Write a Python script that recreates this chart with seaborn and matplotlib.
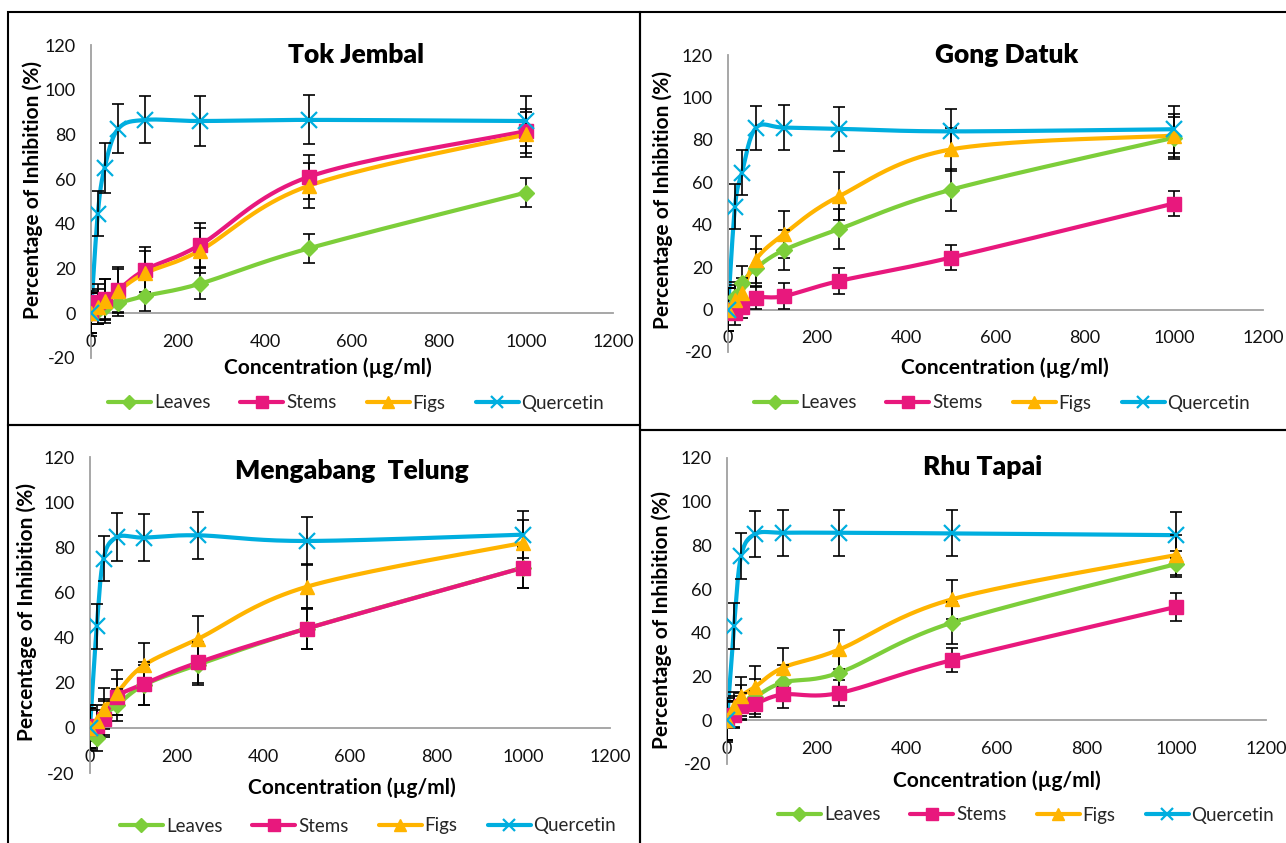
import numpy as np
import pandas as pd
import matplotlib
matplotlib.use("Agg")
import matplotlib.pyplot as plt
from matplotlib.lines import Line2D
from matplotlib.patches import Rectangle
import seaborn as sns

# ---------------- data ----------------
concentration = [0, 15.625, 31.25, 62.5, 125, 250, 500, 1000]
series_names = ["Leaves", "Stems", "Figs", "Quercetin"]
panel_titles = ["Tok Jembal", "Gong Datuk", "Mengabang  Telung", "Rhu Tapai"]

# Tok Jembal
tj_leaves = [0, 1.3, 3, 4.6, 7.8, 13.2, 29, 54]
tj_stems = [0, 5, 6.5, 10.5, 19.5, 30.5, 61, 81.5]
tj_figs = [0, 3, 5.5, 10, 18, 28, 57, 80]
tj_querc = [0, 44.5, 65, 82.5, 86.5, 86, 86.5, 86]
tj_leaves_err = [9, 6, 6, 6, 7, 7, 6.5, 6.5]
tj_stems_err = [9, 8, 9, 10, 10, 10, 10, 10]
tj_figs_err = [9, 8, 10, 10, 10, 10, 10, 10]
tj_querc_err = [10, 10, 11, 11, 10.5, 11, 11, 11]

# Gong Datuk
gd_leaves = [0, 6, 12.5, 19.5, 28, 38, 56.5, 81]
gd_stems = [0, -1.5, 1, 5.6, 6.3, 13.5, 24.5, 50]
gd_figs = [0, 4.5, 8, 23.5, 35.5, 53.5, 75.5, 82]
gd_querc = [0, 48.5, 64.5, 85.6, 85.8, 85.2, 84, 85]
gd_leaves_err = [10, 7, 8, 9, 9.5, 9.6, 9.8, 10]
gd_stems_err = [10, 6, 5, 5.5, 6, 6, 6, 6]
gd_figs_err = [10, 7, 7, 11, 11, 11.5, 10, 10]
gd_querc_err = [10, 10.6, 10.5, 10.5, 10.8, 10.5, 10.5, 11]

# Mengabang Telung
mt_leaves = [0, -4.3, 5, 10, 19, 28, 44, 71]
mt_stems = [0, 1, 4.1, 13.8, 19.5, 29, 44, 71]
mt_figs = [0, 3.1, 8.5, 15.5, 27.8, 39.5, 62.5, 82]
mt_querc = [0, 45, 75, 84.5, 84.3, 85.3, 82.8, 85.6]
mt_leaves_err = [9, 6, 8, 7, 9, 9, 9, 9]
mt_stems_err = [9, 7, 8, 8, 9.5, 9, 9, 9]
mt_figs_err = [9, 7, 9, 10, 10, 10, 10, 10]
mt_querc_err = [10, 10, 10, 10.5, 10.5, 10.5, 10.5, 10.5]

# Rhu Tapai
rt_leaves = [0, 4, 8, 10.7, 17.3, 21.8, 44.6, 71.5]
rt_stems = [0, 2.3, 6.4, 7.6, 11.8, 12.5, 27.5, 51.9]
rt_figs = [0, 6.1, 11, 15.3, 24.1, 32.4, 55.3, 75.6]
rt_querc = [0, 43, 75, 85.2, 85.8, 85.8, 85.5, 84.7]
rt_leaves_err = [9, 7, 8, 8, 8, 8, 9.5, 6]
rt_stems_err = [9, 6, 6, 6, 6, 6, 5.5, 6.5]
rt_figs_err = [9, 7, 9, 9.5, 9, 9, 9, 9]
rt_querc_err = [10, 10.5, 10.5, 10.5, 10.5, 10.5, 10.5, 10.5]

x_ticks = [0, 200, 400, 600, 800, 1000, 1200]
y_ticks = [-20, 0, 20, 40, 60, 80, 100, 120]

panels = [
    (tj_leaves, tj_stems, tj_figs, tj_querc, tj_leaves_err, tj_stems_err, tj_figs_err, tj_querc_err),
    (gd_leaves, gd_stems, gd_figs, gd_querc, gd_leaves_err, gd_stems_err, gd_figs_err, gd_querc_err),
    (mt_leaves, mt_stems, mt_figs, mt_querc, mt_leaves_err, mt_stems_err, mt_figs_err, mt_querc_err),
    (rt_leaves, rt_stems, rt_figs, rt_querc, rt_leaves_err, rt_stems_err, rt_figs_err, rt_querc_err),
]

# ---------------- style ----------------
colors = ["#7DCE3A", "#E8187D", "#FFB400", "#00AEDF"]
markers = ["D", "s", "^", "x"]
msizes = [8, 9.5, 10.5, 11]

sns.set_theme(style="white")
plt.rcParams["font.family"] = ["Lato", "DejaVu Sans"]

W, H = 1286, 843
fig = plt.figure(figsize=(W / 100, H / 100), dpi=100)


def fx(px):
    return px / W


def fy(py):
    return 1 - py / H


# axes geometry in pixels: (x0, x1200, y120, y-20)
geom = [
    (91, 613, 45, 358),
    (728, 1263, 55, 352),
    (90, 610, 457, 773),
    (727, 1266, 458, 764),
]
title_pos = [(356, 55), (1007, 55), (352, 471), (983, 467)]
ylabel_pos = [(33, 190), (663, 200), (27, 612), (662, 620)]
xlabel_pos = [(328, 368), (1005, 368), (352, 788), (997, 781)]
legend_pos = [(356, 403), (1002, 403), (368, 826), (1026, 815)]
boxes = [(8, 12, 640, 425), (640, 12, 1290, 430), (8, 425, 640, 850), (640, 430, 1290, 850)]


def smooth(xv, yv, n=40):
    """Excel-like smoothed (Catmull-Rom / Bezier) path through the points."""
    p = np.column_stack([xv, yv]).astype(float)
    m = len(p)
    out = []
    t = np.linspace(0, 1, n)
    for i in range(m - 1):
        p0 = p[max(i - 1, 0)]
        p1 = p[i]
        p2 = p[i + 1]
        p3 = p[min(i + 2, m - 1)]
        c1 = p1 + (p2 - p0) / 6.0
        c2 = p2 - (p3 - p1) / 6.0
        seg = ((1 - t) ** 3)[:, None] * p1 + (3 * (1 - t) ** 2 * t)[:, None] * c1 \
            + (3 * (1 - t) * t ** 2)[:, None] * c2 + (t ** 3)[:, None] * p2
        out.append(seg if i == 0 else seg[1:])
    out = np.vstack(out)
    return out[:, 0], out[:, 1]


for k, pdata in enumerate(panels):
    x0, x1, yt, yb = geom[k]
    ax = fig.add_axes([fx(x0), fy(yb), fx(x1 - x0), (yb - yt) / H])
    ax.set_xlim(0, 1200)
    ax.set_ylim(-20, 120)
    ax.set_facecolor("none")
    values = pdata[:4]
    errors = pdata[4:]
    for s in range(4):
        sx, sy = smooth(concentration, values[s])
        df = pd.DataFrame({"x": sx, "y": sy})
        sns.lineplot(data=df, x="x", y="y", sort=False, estimator=None,
                     color=colors[s], lw=3.0, ax=ax, zorder=2 + s * 0.1)
        ax.errorbar(concentration, values[s], yerr=errors[s], fmt="none",
                    ecolor="black", elinewidth=1.2, capsize=4, capthick=1.2,
                    zorder=3 + s * 0.1)
        mk = dict(marker=markers[s], ms=msizes[s], ls="none", color=colors[s],
                  zorder=4 + s * 0.1)
        if markers[s] == "x":
            mk["mew"] = 1.6
        else:
            mk["mec"] = colors[s]
        ax.plot(concentration, values[s], **mk)

    for sp in ["top", "right"]:
        ax.spines[sp].set_visible(False)
    ax.spines["bottom"].set_position(("data", 0))
    for sp in ["left", "bottom"]:
        ax.spines[sp].set_color("#A0A0A0")
        ax.spines[sp].set_linewidth(1.3)
    ax.set_xticks(x_ticks)
    ax.set_yticks(y_ticks)
    ax.set_xticklabels([str(v) for v in x_ticks])
    ax.set_yticklabels([str(v) for v in y_ticks])
    ax.tick_params(axis="x", length=0, pad=15, labelsize=13, colors="#111111")
    ax.tick_params(axis="y", length=0, pad=11, labelsize=13, colors="#111111")
    ax.set_xlabel("")
    ax.set_ylabel("")
    ax.grid(False)

    tx, ty = title_pos[k]
    fig.text(fx(tx), fy(ty), panel_titles[k], ha="center", va="center",
             fontsize=19, fontweight="heavy", color="black")
    lx, ly = ylabel_pos[k]
    fig.text(fx(lx), fy(ly), "Percentage of Inhibition (%)", ha="center", va="center",
             rotation=90, fontsize=15, fontweight="bold", color="black")
    cx, cy = xlabel_pos[k]
    fig.text(fx(cx), fy(cy), "Concentration (µg/ml)", ha="center", va="center",
             fontsize=15, fontweight="bold", color="black")

    handles = []
    for s in range(4):
        h = Line2D([], [], color=colors[s], lw=3.0, marker=markers[s],
                   ms=msizes[s] * 0.85, mew=1.6 if markers[s] == "x" else 1,
                   mec=colors[s])
        handles.append(h)
    gx, gy = legend_pos[k]
    fig.legend(handles, series_names, loc="center", bbox_to_anchor=(fx(gx), fy(gy)),
               ncol=4, frameon=False, fontsize=13.5, handlelength=2.3,
               handletextpad=0.15, columnspacing=1.6)

for (bx0, by0, bx1, by1) in boxes:
    fig.add_artist(Rectangle((fx(bx0), fy(by1)), fx(bx1 - bx0), (by1 - by0) / H,
                             transform=fig.transFigure, fill=False, ec="black", lw=1.5))

fig.savefig("out.png", dpi=100)
